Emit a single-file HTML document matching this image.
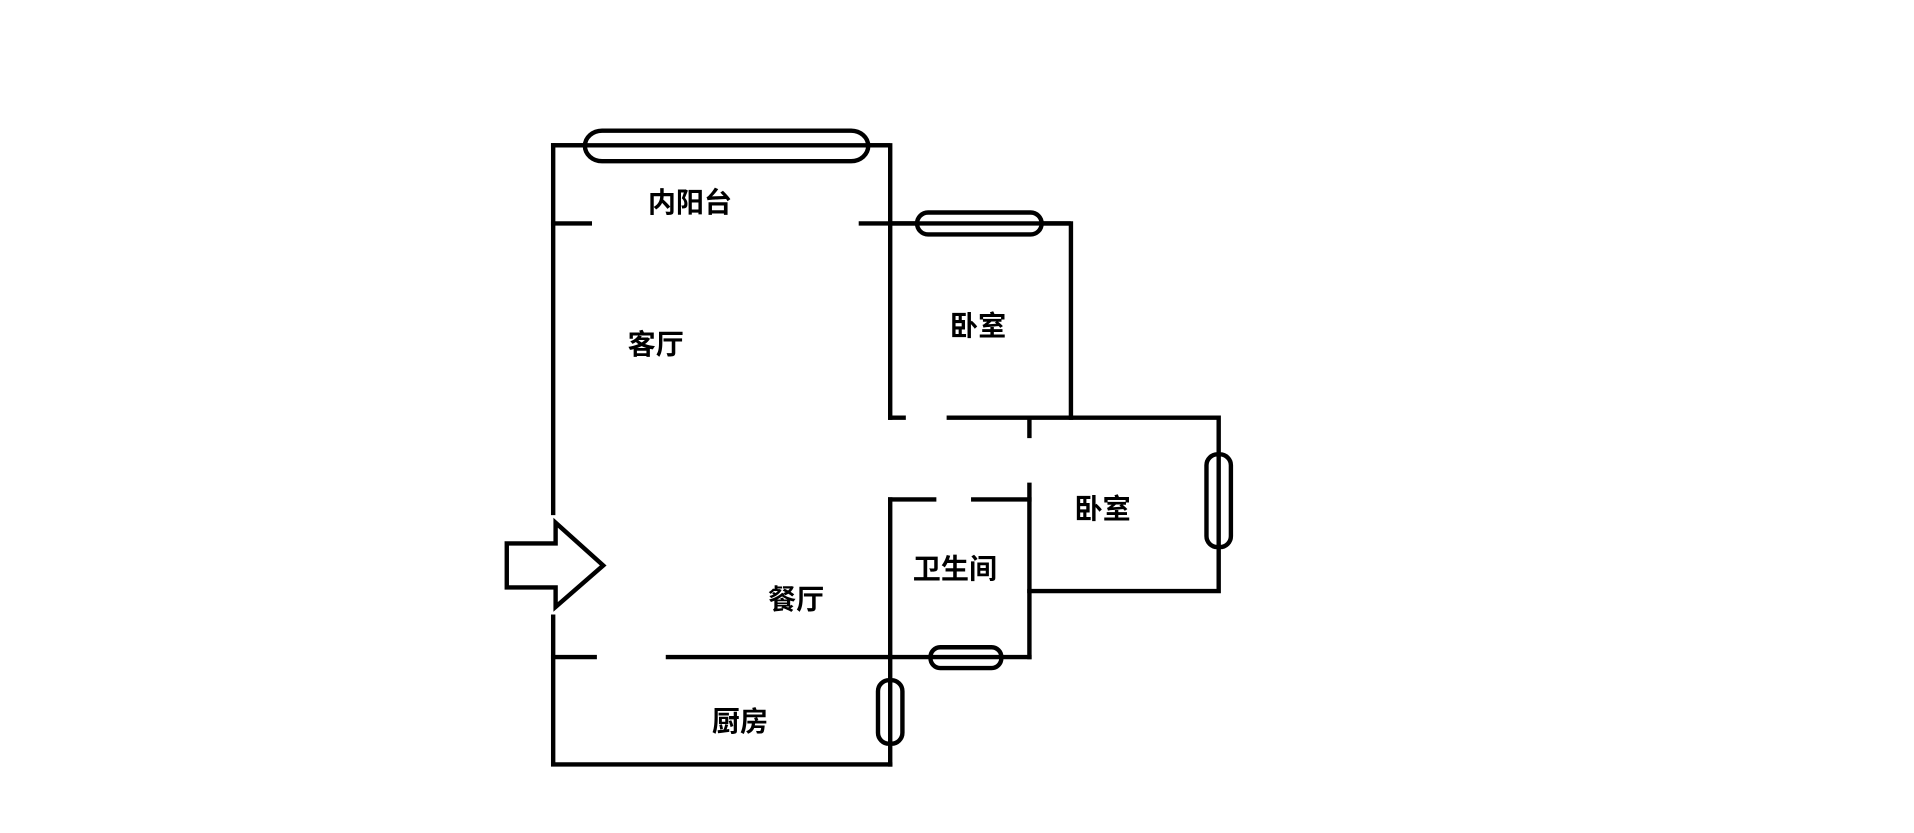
<!DOCTYPE html>
<html><head><meta charset="utf-8"><style>
html,body{margin:0;padding:0;background:#fff;}
svg{display:block}
text{font-family:"Liberation Sans","Noto Sans CJK SC",sans-serif;font-weight:bold;font-size:23px;fill:#000;text-anchor:middle;dominant-baseline:central}
</style></head><body>
<svg width="1914" height="833" viewBox="0 0 1567.4 682.1" preserveAspectRatio="none" xmlns="http://www.w3.org/2000/svg">
<rect width="1568" height="683" fill="#fff"/>
<g stroke="#000" stroke-width="3.6" fill="none" stroke-linecap="square">
<path d="M453 119 V420 M453 505 V626 H729"/>
<path d="M453 119 H729 V342"/>
<path d="M453 183 H483 M705 183 H877 V342"/>
<path d="M729 342 H740 M777 342 H998 V484 H843"/>
<path d="M843 342 V357 M843 397 V538"/>
<path d="M729 409 H765 M797 409 H843"/>
<path d="M729 409 V626"/>
<path d="M453 538 H487 M547 538 H843"/>
</g>
<g stroke="#000" stroke-width="3.6" fill="#fff">
<rect x="479" y="107" width="232" height="25" rx="14"/>
<rect x="751" y="174" width="102" height="18" rx="9"/>
<rect x="988" y="372" width="20" height="76" rx="9"/>
<rect x="762" y="530" width="58" height="17" rx="8"/>
<rect x="719" y="557" width="20" height="52" rx="9"/>
</g>
<g stroke="#000" stroke-width="3.6" fill="none">
<line x1="453" y1="119" x2="729" y2="119"/>
<line x1="729" y1="183" x2="877" y2="183"/>
<line x1="998" y1="372" x2="998" y2="448"/>
<line x1="762" y1="538" x2="820" y2="538"/>
<line x1="729" y1="557" x2="729" y2="609"/>
</g>
<polygon points="415,445 455,445 455,428 494,463 455,497 455,481 415,481" fill="#fff" stroke="#000" stroke-width="3.6"/>
<text x="565" y="166">内阳台</text>
<text x="537" y="282">客厅</text>
<text x="801" y="267">卧室</text>
<text x="903" y="417">卧室</text>
<text x="782" y="466">卫生间</text>
<text x="652" y="491">餐厅</text>
<text x="606" y="591">厨房</text>
</svg>
</body></html>
